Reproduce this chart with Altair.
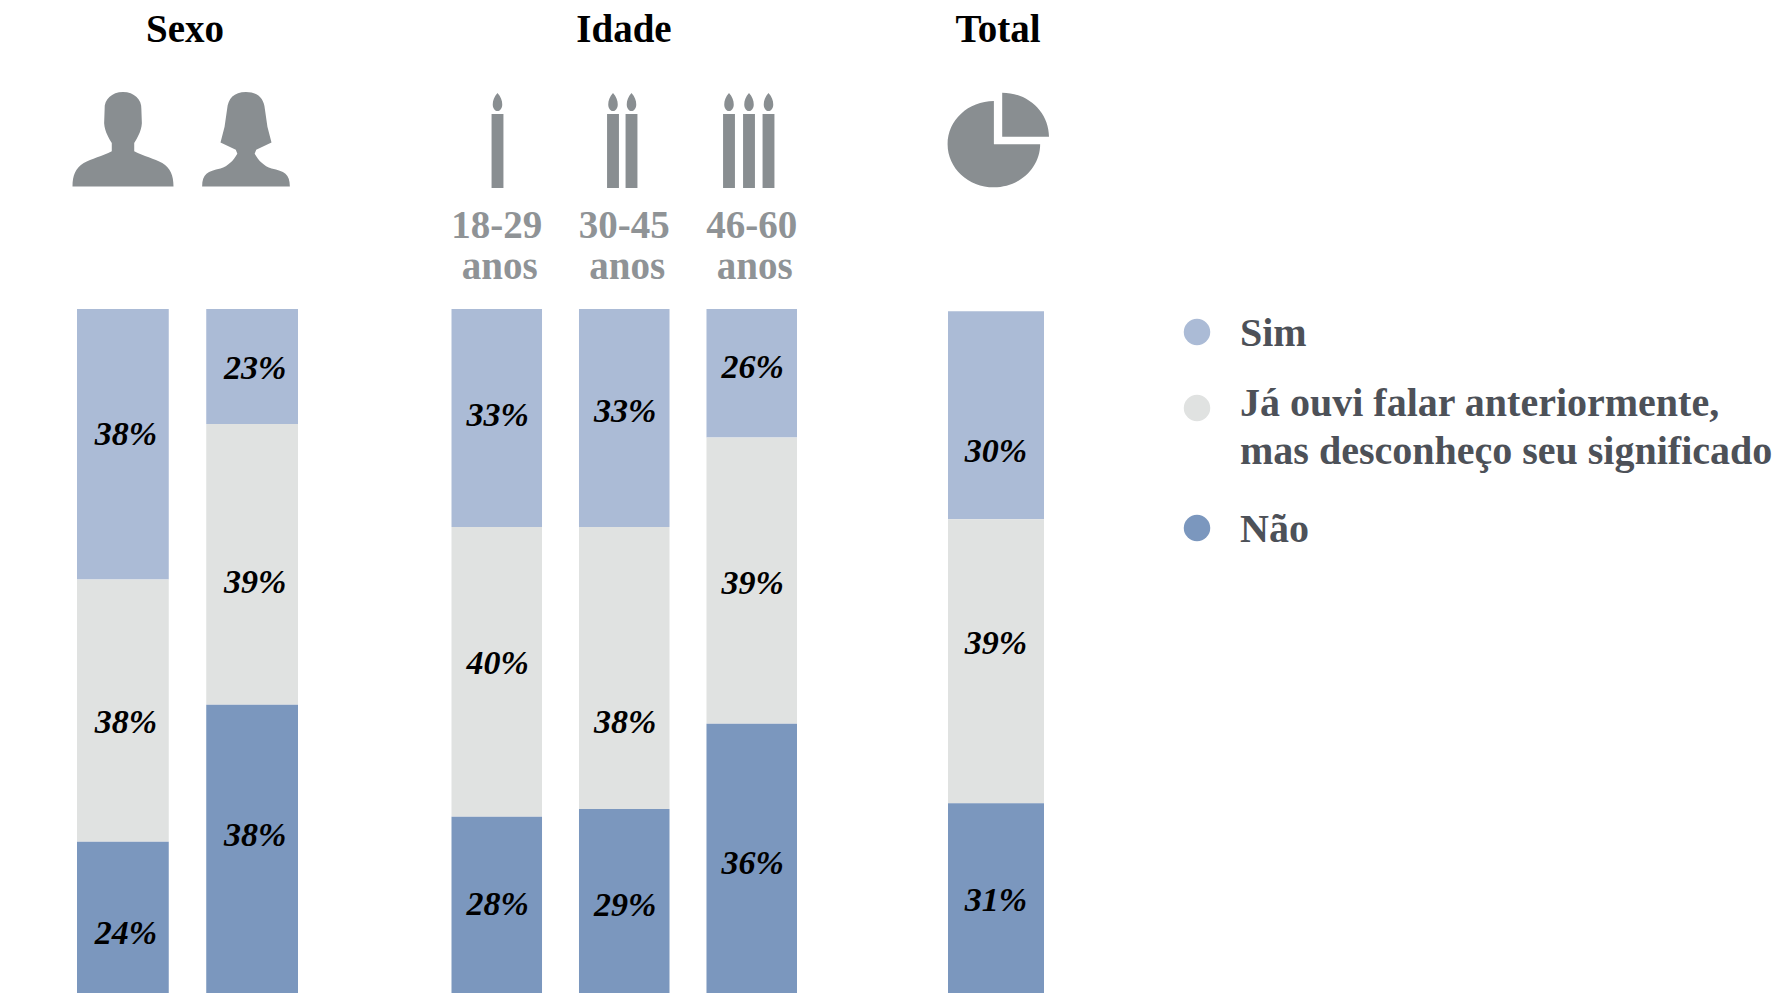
import altair as alt
import pandas as pd

# ---- data ----
answers = ["Sim", "Já ouvi falar anteriormente, mas desconheço seu significado", "Não"]
legend_lines = [["Sim"], ["Já ouvi falar anteriormente,", "mas desconheço seu significado"], ["Não"]]
colors = ["#ABBBD6", "#E0E2E1", "#7B97BE"]

groups = ["Sexo", "Idade", "Total"]
sexo_bars = ["Homens", "Mulheres"]
idade_bars = ["18-29", "30-45", "46-60"]
total_bars = ["Total"]
age_caption = ["18-29", "30-45", "46-60"]

# where each bar's stack starts, and where the 1st and 2nd segments end (percent as drawn)
bar_start = {"Homens": 0, "Mulheres": 0, "18-29": 0, "30-45": 0, "46-60": 0, "Total": 0.3}
sim_end = {"Homens": 38.1, "Mulheres": 16.2, "18-29": 30.7, "30-45": 30.7, "46-60": 18.1, "Total": 29.6}
ja_end = {"Homens": 75.0, "Mulheres": 55.7, "18-29": 71.5, "30-45": 70.4, "46-60": 58.4, "Total": 69.6}
nao_end = 100

# printed labels
sim_labels = {"Homens": 38, "Mulheres": 23, "18-29": 33, "30-45": 33, "46-60": 26, "Total": 30}
ja_labels = {"Homens": 38, "Mulheres": 39, "18-29": 40, "30-45": 38, "46-60": 39, "Total": 39}
nao_labels = {"Homens": 24, "Mulheres": 38, "18-29": 28, "30-45": 29, "46-60": 36, "Total": 31}

# where each printed label sits along the stack
sim_anchor = {"Homens": 17.6, "Mulheres": 8.3, "18-29": 14.9, "30-45": 14.4, "46-60": 8.2, "Total": 20.0}
ja_anchor = {"Homens": 58.2, "Mulheres": 38.4, "18-29": 49.9, "30-45": 58.1, "46-60": 38.6, "Total": 47.0}
nao_anchor = {"Homens": 87.8, "Mulheres": 74.1, "18-29": 83.7, "30-45": 83.9, "46-60": 78.0, "Total": 83.2}

rows = []
for b in sexo_bars + idade_bars + total_bars:
    bounds = [bar_start[b], sim_end[b], ja_end[b], nao_end]
    labs = [sim_labels[b], ja_labels[b], nao_labels[b]]
    anch = [sim_anchor[b], ja_anchor[b], nao_anchor[b]]
    for i, a in enumerate(answers):
        rows.append({"bar": b, "answer": a, "start": bounds[i], "end": bounds[i + 1],
                     "label": f"{labs[i]}%", "anchor": anch[i], "order": i})
df = pd.DataFrame(rows)

SERIF = "Liberation Serif"
ICON = "#898E91"
GREY = "#8F9396"
DARK = "#4D5158"

y_scale = alt.Scale(domain=[0, 96.3], range=[301, 985], nice=False, zero=False)
color = alt.Color("answer:N", scale=alt.Scale(domain=answers, range=colors), legend=None)

MALE = ("M0 -0.93 C-0.22 -0.93 -0.37 -0.78 -0.36 -0.6 L-0.37 -0.32 C-0.36 -0.15 -0.26 0 -0.22 0.07 "
        "L-0.22 0.23 C-0.4 0.32 -0.62 0.38 -0.77 0.46 C-0.93 0.56 -0.99 0.7 -0.99 0.92 L0.99 0.92 "
        "C0.99 0.7 0.93 0.56 0.77 0.46 C0.62 0.38 0.4 0.32 0.22 0.23 L0.22 0.07 C0.26 0 0.36 -0.15 0.37 -0.32 "
        "L0.36 -0.6 C0.37 -0.78 0.22 -0.93 0 -0.93 Z")
FEMALE = ("M0 -0.93 C-0.24 -0.93 -0.35 -0.8 -0.37 -0.6 L-0.42 -0.25 L-0.5 0.06 L-0.2 0.2 L-0.17 0.28 "
          "C-0.25 0.42 -0.35 0.52 -0.5 0.57 C-0.75 0.62 -0.86 0.68 -0.86 0.92 L0.86 0.92 "
          "C0.86 0.68 0.75 0.62 0.5 0.57 C0.35 0.52 0.25 0.42 0.17 0.28 L0.2 0.2 L0.5 0.06 L0.42 -0.25 "
          "L0.37 -0.6 C0.35 -0.8 0.24 -0.93 0 -0.93 Z")
CANDLE = ("M-0.125 -0.56 L0.125 -0.56 L0.125 1 L-0.125 1 Z "
          "M0 -1 C0.07 -0.92 0.1 -0.84 0.1 -0.76 C0.1 -0.68 0.05 -0.62 0 -0.62 "
          "C-0.05 -0.62 -0.1 -0.68 -0.1 -0.76 C-0.1 -0.84 -0.07 -0.92 0 -1 Z")
PIE = ("M-0.06 0.07 L-0.06 -0.76 A0.89 0.83 0 1 0 0.83 0.07 Z "
       "M0.1 -0.07 L0.1 -0.92 A0.9 0.85 0 0 1 1.0 -0.07 Z")


def icon(path, px, py, half):
    return alt.Chart(pd.DataFrame({"k": [0]})).mark_point(
        shape=path, filled=True, fill=ICON, stroke=None, opacity=1, size=(2 * half) ** 2
    ).encode(x=alt.value(px), y=alt.value(py))


def heading(text, px):
    return alt.Chart(pd.DataFrame({"t": [text]})).mark_text(
        font=SERIF, fontWeight="bold", fontSize=39, color="#000000", baseline="middle", align="center"
    ).encode(x=alt.value(px), y=alt.value(22), text="t:N")


def bars_panel(names, x_range, width, extra, label_dx):
    x = alt.X("bar:N", sort=names, axis=None,
              scale=alt.Scale(domain=names, range=x_range, paddingInner=0.29, paddingOuter=0))
    base = alt.Chart(df[df.bar.isin(names)])
    rects = base.mark_bar(clip=True, stroke=None).encode(
        x=x, y=alt.Y("start:Q", scale=y_scale, axis=None), y2="end:Q", color=color,
        order="order:Q")
    labels = base.mark_text(
        font=SERIF, fontStyle="italic", fontWeight="bold", fontSize=34, color="#000000",
        baseline="middle", align="center", dx=label_dx, dy=1
    ).encode(x=x, y=alt.Y("anchor:Q", scale=y_scale, axis=None), text="label:N")
    return alt.layer(rects, labels, *extra(x)).properties(width=width, height=985)


def sexo_extra(x):
    return [heading(groups[0], 177), icon(MALE, 115, 131.5, 51), icon(FEMALE, 238, 131.5, 51)]


def idade_extra(x):
    caps = pd.DataFrame({"bar": idade_bars, "a": age_caption, "b": ["anos"] * 3})
    top = alt.Chart(caps).mark_text(font=SERIF, fontWeight="bold", fontSize=39, color=GREY,
                                    baseline="middle", align="center", dx=0).encode(
        x=x, y=alt.value(218), text="a:N")
    low = alt.Chart(caps).mark_text(font=SERIF, fontWeight="bold", fontSize=39, color=GREY,
                                    baseline="middle", align="center", dx=3).encode(
        x=x, y=alt.value(259), text="b:N")
    marks = [heading(groups[1], 226), top, low]
    h = 47.5
    for cx in [99.5, 215, 233.5, 331, 351, 370.5]:
        marks.append(icon(CANDLE, cx, 132.5, h))
    return marks


def total_extra(x):
    return [heading(groups[2], 100), icon(PIE, 99, 132.5, 52)]


panel1 = bars_panel(sexo_bars, [69, 290], 390, sexo_extra, 3)
panel2 = bars_panel(idade_bars, [53.5, 399], 500, idade_extra, 1)
panel3 = bars_panel(total_bars, [50, 146], 250, total_extra, 0)

# legend panel
legend_marks = []
dot_y = [324, 400, 520]
line_y = [[326], [396, 444], [522]]
for a, lines, dy, ly in zip(answers, legend_lines, dot_y, line_y):
    legend_marks.append(
        alt.Chart(pd.DataFrame({"answer": [a]})).mark_circle(size=700, opacity=1).encode(
            x=alt.value(49), y=alt.value(dy), color=color))
    for t, yy in zip(lines, ly):
        legend_marks.append(
            alt.Chart(pd.DataFrame({"t": [t]})).mark_text(
                font=SERIF, fontWeight="bold", fontSize=40, color=DARK, align="left", baseline="middle"
            ).encode(x=alt.value(92), y=alt.value(yy), text="t:N"))
panel4 = alt.layer(*legend_marks).properties(width=625, height=985)

chart = alt.hconcat(panel1, panel2, panel3, panel4, spacing=0, bounds="flush").properties(
    padding=0
).configure_view(stroke=None).resolve_scale(color="shared")

chart.save("out.html", embed_options={"renderer": "svg", "actions": False})
